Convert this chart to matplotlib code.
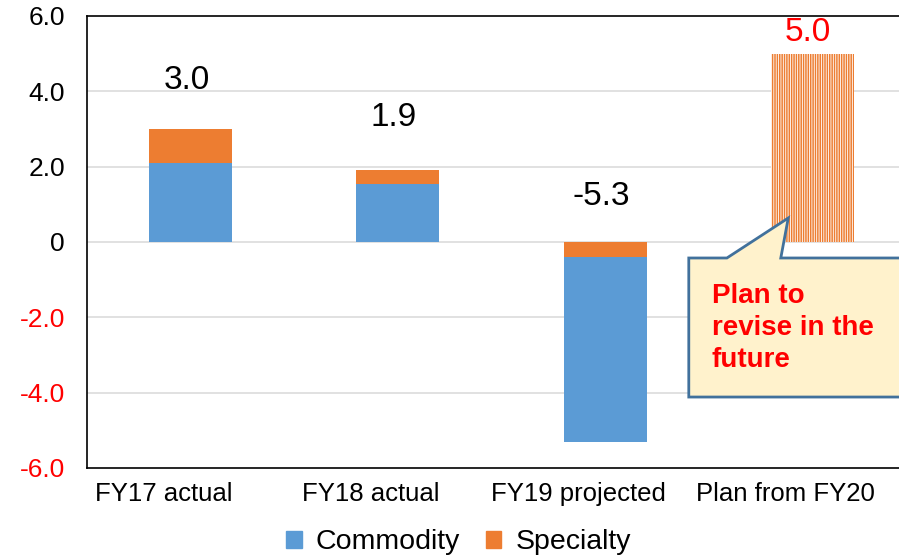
import matplotlib.pyplot as plt
from matplotlib.patches import Patch, Polygon
from matplotlib.transforms import ScaledTranslation

plt.rcParams['font.family'] = ['Liberation Sans', 'DejaVu Sans']
plt.rcParams['hatch.linewidth'] = 1.1

categories = ['FY17 actual', 'FY18 actual', 'FY19 projected', 'Plan from FY20']
commodity = [2.1, 1.55, -4.9, 0.0]
specialty = [0.9, 0.35, -0.4, 5.0]
totals = [3.0, 1.9, -5.3, 5.0]
ytick_values = [6, 4, 2, 0, -2, -4, -6]
ytick_labels = ['6.0', '4.0', '2.0', '0', '-2.0', '-4.0', '-6.0']
note = 'Plan to\nrevise in the\nfuture'

blue = '#5B9BD5'
orange = '#ED7D31'
red = '#FF0000'

fig = plt.figure(figsize=(8.99, 5.59), dpi=100)
ax = fig.add_axes([0.0968, 0.1628, 0.922, 0.8086])

x = list(range(len(categories)))
width = 0.4

# the first three years are actuals/projections, the last one is only a plan
for i in x[:-1]:
    if commodity[i] >= 0:
        ax.bar(i, commodity[i], width, color=blue, zorder=2)
        ax.bar(i, specialty[i], width, bottom=commodity[i], color=orange, zorder=2)
    else:
        # negative year: specialty sits right under zero, commodity below it
        ax.bar(i, specialty[i], width, color=orange, zorder=2)
        ax.bar(i, commodity[i], width, bottom=specialty[i], color=blue, zorder=2)
last = x[-1]
ax.bar(last, specialty[last], width, bottom=commodity[last], color='white',
       edgecolor=orange, linewidth=0, hatch='|' * 7, zorder=2)

# value labels over each column
label_offset = [1.3, 1.4, 1.2, 0.55]
for i in x:
    top = max(totals[i], 0)
    ax.text(i - 0.02, top + label_offset[i], f'{totals[i]:.1f}', ha='center', va='center',
            fontsize=24, color=red if i == last else 'black')

ax.set_xlim(-0.5, 3.5)
ax.set_ylim(-6, 6)
ax.set_yticks(ytick_values)
ax.set_yticklabels(ytick_labels)
for lab, v in zip(ax.get_yticklabels(), ytick_values):
    lab.set_color(red if v < 0 else 'black')
ax.tick_params(axis='y', length=0, pad=16, labelsize=19)

ax.set_xticks(x)
ax.set_xticklabels(categories)
ax.tick_params(axis='x', length=0, pad=10, labelsize=18.5)
shift = ScaledTranslation(-0.27, 0, fig.dpi_scale_trans)
for lab in ax.get_xticklabels():
    lab.set_transform(lab.get_transform() + shift)

ax.grid(axis='y', color='#D9D9D9', linewidth=1.1, zorder=0)
for y in (6, -6):
    ax.yaxis.get_gridlines()[ytick_values.index(y)].set_visible(False)
for s in ax.spines.values():
    s.set_linewidth(1.2)
    s.set_color('black')

# callout box pointing at the plan column
box = Polygon([[0.726, 0.4646], [0.772, 0.4646], [0.846, 0.553], [0.837, 0.4646],
               [1.02, 0.4646], [1.02, 0.157], [0.726, 0.157]],
              closed=True, transform=ax.transAxes, facecolor='#FFF2CC',
              edgecolor='#41719C', linewidth=2.0, zorder=5, clip_on=False)
ax.add_patch(box)
ax.text(0.754, 0.31, note, transform=ax.transAxes, ha='left', va='center',
        fontsize=20, fontweight='bold', color=red, linespacing=1.3, zorder=6)

handles = [Patch(color=blue, label='Commodity'), Patch(color=orange, label='Specialty')]
fig.legend(handles=handles, loc='center', bbox_to_anchor=(0.51, 0.03), ncol=2,
           frameon=False, fontsize=20.5, handlelength=0.55, handleheight=0.55,
           handletextpad=0.5, columnspacing=0.9)

fig.savefig('out.png', dpi=100)
